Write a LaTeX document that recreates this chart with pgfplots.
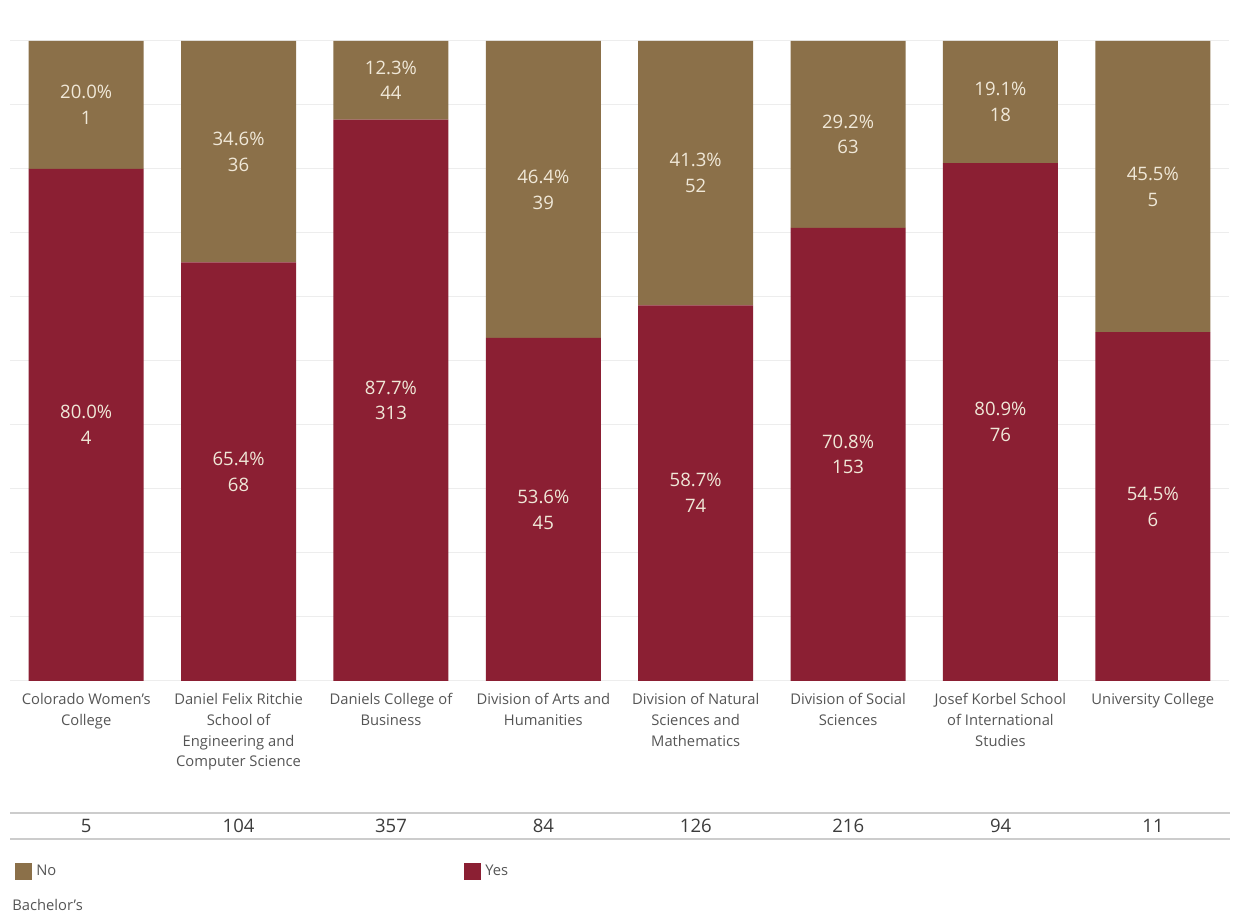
\documentclass[border=0pt]{standalone}
\usepackage{pgfplots}
\pgfplotsset{compat=1.18}
\usepackage{pgfplotstable}
\usepackage{fontspec}
\setmainfont{Open Sans}
\definecolor{yescol}{RGB}{139,31,51}
\definecolor{nocol}{RGB}{139,112,73}
\definecolor{lbl}{RGB}{240,232,216}
\definecolor{cat}{RGB}{85,85,85}
\definecolor{tot}{RGB}{60,60,60}
\pgfplotstableread{
x yes yesp no nop yl nl
0 4 80.0 1 20.0 {80.0\%\\4} {20.0\%\\1}
1 68 65.4 36 34.6 {65.4\%\\68} {34.6\%\\36}
2 313 87.7 44 12.3 {87.7\%\\313} {12.3\%\\44}
3 45 53.6 39 46.4 {53.6\%\\45} {46.4\%\\39}
4 74 58.7 52 41.3 {58.7\%\\74} {41.3\%\\52}
5 153 70.8 63 29.2 {70.8\%\\153} {29.2\%\\63}
6 76 80.9 18 19.1 {80.9\%\\76} {19.1\%\\18}
7 6 54.5 5 45.5 {54.5\%\\6} {45.5\%\\5}
}\data
\pgfplotsset{
  base/.style={
    at={(5bp,117.5bp)}, anchor=south west,
    scale only axis, width=609.5bp, height=336bp,
    xmin=-0.5, xmax=7.5, ymin=0, ymax=105,
  }
}
\begin{document}
\begin{tikzpicture}[x=1bp,y=1bp]
\useasboundingbox (0,0) rectangle (616.5,458);
\begin{axis}[
  base,
  ybar stacked, bar width=57.5bp,
  axis line style={draw=none},
  tick style={draw=none},
  ytick={0,10,...,100}, yticklabels={},
  ymajorgrids, grid style={black!7, line width=0.5bp},
  xtick={0,...,7},
  xticklabels={{Colorado Women’s\\College},{Daniel Felix Ritchie\\School of\\Engineering and\\Computer Science},{Daniels College of\\Business},{Division of Arts and\\Humanities},{Division of Natural\\Sciences and\\Mathematics},{Division of Social\\Sciences},{Josef Korbel School\\of International\\Studies},{University College}},
  xticklabel style={align=center, anchor=north, font=\fontsize{7.4}{10.5}\selectfont, text=cat, yshift=-2.5bp},
  legend columns=2,
  reverse legend,
  legend style={at={(axis description cs:0,0)}, anchor=west, xshift=-0.5bp, yshift=-95.5bp, draw=none, fill=none, font=\fontsize{7.4}{8}\selectfont, text=cat, /tikz/every even column/.append style={column sep=202bp}},
  legend image code/.code={\fill[#1] (0bp,-4.25bp) rectangle (8.5bp,4.25bp);},
]
\addplot[fill=yescol, draw=none] table[x=x, y=yesp] {\data};
\addplot[fill=nocol, draw=none] table[x=x, y=nop] {\data};
\legend{Yes,No}
\end{axis}
\begin{axis}[
  base, axis lines=none, clip=false,
  point meta=explicit symbolic,
  nodes near coords,
  every node near coord/.append style={anchor=center, align=center, text=lbl, font=\fontsize{9.3}{13}\selectfont, inner sep=0pt},
]
\addplot[draw=none, mark=none] table[x=x, y expr=\thisrow{yesp}/2, meta=yl] {\data};
\addplot[draw=none, mark=none] table[x=x, y expr=\thisrow{yesp}+\thisrow{nop}/2, meta=nl] {\data};
\end{axis}
\draw[black!20, line width=0.6bp] (5,51.5) -- (615,51.5);
\draw[black!20, line width=0.6bp] (5,38.5) -- (615,38.5);
\begin{scope}[every node/.style={font=\fontsize{9.3}{11}\selectfont, text=tot, anchor=center}]
\node at (43.1,45) {5};
\node at (119.3,45) {104};
\node at (195.5,45) {357};
\node at (271.7,45) {84};
\node at (347.9,45) {126};
\node at (424.1,45) {216};
\node at (500.3,45) {94};
\node at (576.5,45) {11};
\end{scope}
\node[anchor=west, font=\fontsize{7.4}{8}\selectfont, text=cat, inner sep=0] at (6,5.5) {Bachelor’s};
\end{tikzpicture}
\end{document}
